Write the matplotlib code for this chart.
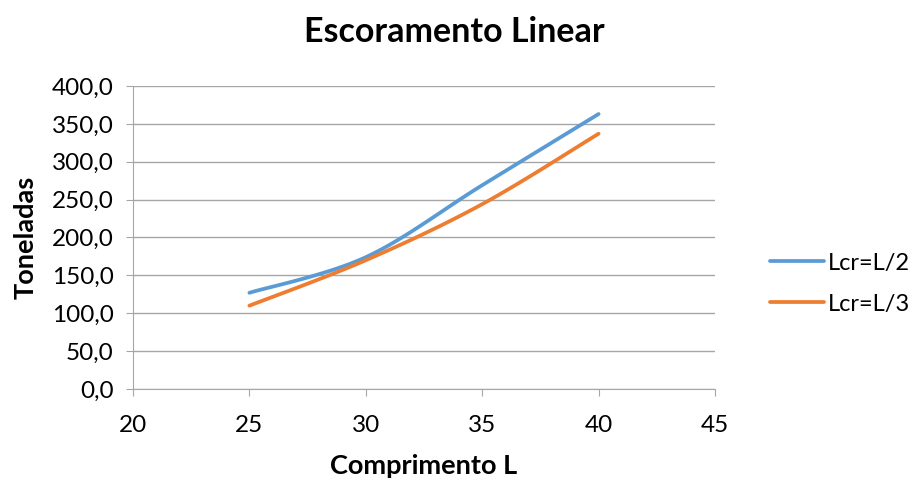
import matplotlib
matplotlib.use("Agg")
import matplotlib.pyplot as plt
import numpy as np
from matplotlib.ticker import FuncFormatter

plt.rcParams['font.family'] = ['Lato', 'DejaVu Sans']

comprimento = [25, 30, 35, 40]
lcr_l2 = [127, 174, 269, 363]
lcr_l3 = [110, 170, 244, 337]
series = [("Lcr=L/2", lcr_l2, "#5B9BD5"), ("Lcr=L/3", lcr_l3, "#ED7D31")]


def smooth(xs, ys, n=40):
    """Curva suavizada estilo Excel (Bezier com tangentes Catmull-Rom)."""
    p = np.column_stack([xs, ys]).astype(float)
    pts = []
    for i in range(len(p) - 1):
        p0 = p[i - 1] if i > 0 else p[i]
        p1, p2 = p[i], p[i + 1]
        p3 = p[i + 2] if i + 2 < len(p) else p[i + 1]
        c1 = p1 + (p2 - p0) / 6
        c2 = p2 - (p3 - p1) / 6
        t = np.linspace(0, 1, n)[:, None]
        seg = (1 - t) ** 3 * p1 + 3 * (1 - t) ** 2 * t * c1 + 3 * (1 - t) * t ** 2 * c2 + t ** 3 * p2
        pts.append(seg if i == 0 else seg[1:])
    pts = np.vstack(pts)
    return pts[:, 0], pts[:, 1]


fig = plt.figure(figsize=(9.09, 4.79), dpi=100)
ax = fig.add_axes([0.1463, 0.1879, 0.6403, 0.6326])

for label, vals, color in series:
    sx, sy = smooth(comprimento, vals)
    ax.plot(sx, sy, color=color, linewidth=2.7, label=label, solid_capstyle='round')

ax.set_xlim(20, 45)
ax.set_ylim(0, 400)
ax.set_xticks(range(20, 46, 5))
ax.set_yticks(range(0, 401, 50))
ax.yaxis.set_major_formatter(FuncFormatter(lambda v, _: f"{v:.1f}".replace('.', ',')))
ax.grid(axis='y', color='#A6A6A6', linewidth=1)
ax.set_axisbelow(True)
for s in ['top', 'right']:
    ax.spines[s].set_visible(False)
for s in ['left', 'bottom']:
    ax.spines[s].set_color('#A6A6A6')
ax.tick_params(axis='both', colors='#A6A6A6', labelcolor='black', labelsize=17.5, length=5)
ax.tick_params(axis='y', pad=9)
ax.tick_params(axis='x', pad=14)

fig.text(0.5, 1 - 32 / 479, "Escoramento Linear", fontsize=24.5, fontweight='bold',
         ha='center', va='center')
ax.set_xlabel("Comprimento L", fontsize=19.5, fontweight='bold', labelpad=13)
ax.set_ylabel("Toneladas", fontsize=19.5, fontweight='bold', labelpad=10)

ax.legend(loc='center left', bbox_to_anchor=(1.094, 0.348), frameon=False,
          fontsize=17, handlelength=2.3, handletextpad=0.15, labelspacing=0.85,
          borderpad=0, borderaxespad=0)

fig.savefig("out.png", dpi=100)
